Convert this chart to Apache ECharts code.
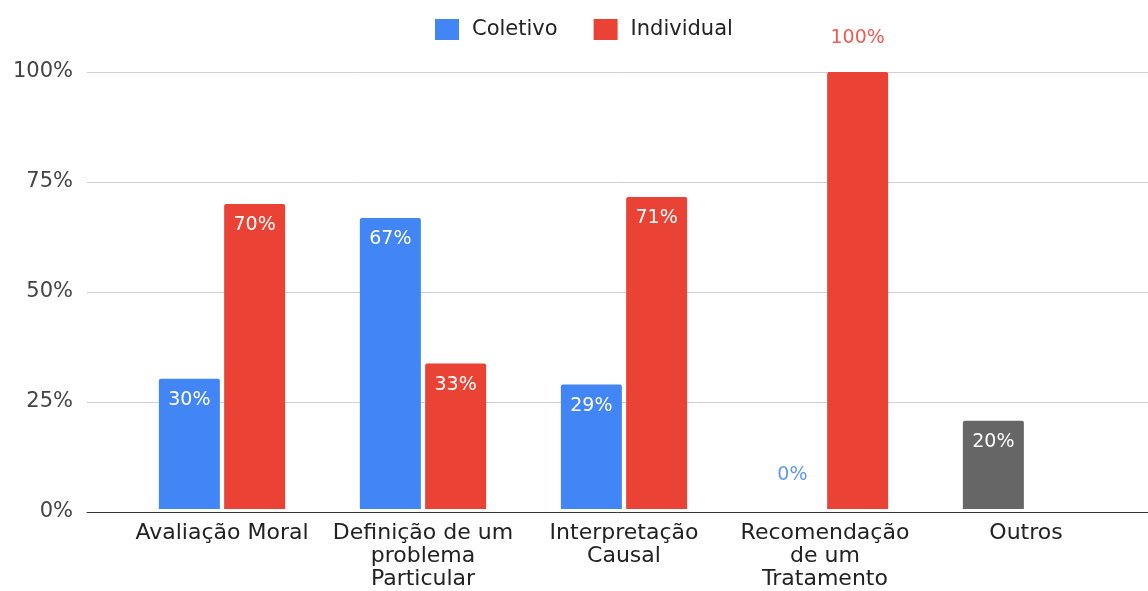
<!DOCTYPE html>
<html>
<head>
<meta charset="utf-8">
<script src="https://cdn.jsdelivr.net/npm/echarts@6/dist/echarts.min.js"></script>
<style>
  html, body { margin: 0; padding: 0; background: #fff; }
  #main { width: 1148px; height: 591px; }
</style>
</head>
<body>
<div id="main"></div>
<script>
// dados do gráfico
const categorias = ['Avaliação Moral', 'Definição de um\nproblema\nParticular', 'Interpretação\nCausal', 'Recomendação\nde um\nTratamento', 'Outros']
const coletivo = [29.8, 66.6, 28.5, 0, 20.2]
const individual = [69.8, 33.3, 71.4, 100, null]
const ticksY = [0, 25, 50, 75, 100]

const azul = '#4285F4'
const vermelho = '#EA4335'
const cinza = '#666666'
const fonte = 'DejaVu Sans'

const chart = echarts.init(document.getElementById('main'))

// rótulos: dentro da barra, ou acima quando é 0 ou 100
const rotulo = (v, cor) => {
  const fora = v === 0 || v >= 100
  return {
    show: true,
    position: fora ? 'top' : 'insideTop',
    distance: fora ? 24 : 12,
    color: fora ? cor : '#fff',
    fontFamily: fonte,
    fontSize: 19,
    formatter: p => Math.round(p.value) + '%'
  }
}

const dadosColetivo = coletivo.map((v, i) => ({
  value: v,
  itemStyle: i === 4 ? { color: cinza } : undefined,
  label: rotulo(v, '#5f97f5')
}))
const dadosIndividual = individual.map(v => v === null ? null : ({
  value: v,
  label: rotulo(v, '#ef5d52')
}))

const option = {
  animation: false,
  textStyle: { fontFamily: fonte },
  legend: {
    left: 430,
    top: 14,
    itemWidth: 24,
    itemHeight: 21,
    itemGap: 36,
    icon: 'rect',
    textStyle: { fontFamily: fonte, fontSize: 21, color: '#222', padding: [0, 0, 0, 8] },
    data: ['Coletivo', 'Individual']
  },
  grid: [
    { left: 87, right: 0, top: 72, bottom: 79 },
    { left: 121.5, right: 21.5, top: 72, bottom: 79 }
  ],
  xAxis: [
    {
      gridIndex: 0,
      type: 'category',
      data: [''],
      axisLine: { lineStyle: { color: '#333', width: 1 } },
      axisTick: { show: false },
      axisLabel: { show: false }
    },
    {
      gridIndex: 1,
      type: 'category',
      data: categorias,
      axisLine: { show: false },
      axisTick: { show: false },
      axisLabel: {
        margin: 13,
        interval: 0,
        color: '#222',
        fontFamily: fonte,
        fontSize: 22,
        lineHeight: 23
      }
    }
  ],
  yAxis: [
    {
      gridIndex: 0,
      type: 'value',
      min: ticksY[0],
      max: ticksY[ticksY.length - 1],
      interval: 25,
      axisLine: { show: false },
      axisTick: { show: false },
      axisLabel: {
        margin: 14,
        color: '#444',
        fontFamily: fonte,
        fontSize: 21,
        formatter: '{value}%'
      },
      splitLine: { lineStyle: { color: '#d0d0d0', width: 1 } }
    },
    {
      gridIndex: 1,
      type: 'value',
      min: ticksY[0],
      max: ticksY[ticksY.length - 1],
      show: false
    }
  ],
  series: [
    {
      name: 'Coletivo',
      type: 'bar',
      xAxisIndex: 1,
      yAxisIndex: 1,
      barWidth: 61,
      barGap: '7%',
      itemStyle: { color: azul, borderRadius: [2, 2, 0, 0] },
      data: dadosColetivo
    },
    {
      name: 'Individual',
      type: 'bar',
      xAxisIndex: 1,
      yAxisIndex: 1,
      barWidth: 61,
      barGap: '7%',
      itemStyle: { color: vermelho, borderRadius: [2, 2, 0, 0] },
      data: dadosIndividual
    }
  ]
}

chart.setOption(option)
</script>
</body>
</html>
